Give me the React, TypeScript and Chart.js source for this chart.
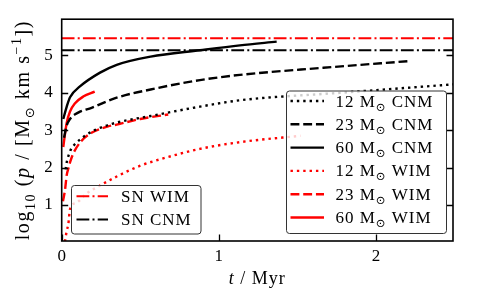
import React, { useEffect, useRef } from "react";
import { Chart, registerables } from "chart.js";
Chart.register(...registerables);

// ---------- data ----------
const tCnm12 = [0.025, 0.032, 0.042, 0.06, 0.085, 0.148, 0.21, 0.32, 0.566, 0.88, 1.134, 1.77, 2.47, 2.5];
const pCnm12 = [1.95, 2.14, 2.3, 2.5, 2.63, 2.85, 3.0, 3.17, 3.38, 3.63, 3.8, 4.0, 4.22, 4.23];

const tCnm23 = [0.015, 0.03, 0.053, 0.105, 0.19, 0.35, 0.566, 0.88, 1.134, 1.664, 2.215];
const pCnm23 = [2.8, 3.1, 3.3, 3.47, 3.6, 3.87, 4.09, 4.34, 4.48, 4.67, 4.85];

const tCnm60 = [0.01, 0.032, 0.053, 0.116, 0.244, 0.35, 0.566, 0.88, 1.134, 1.368];
const pCnm60 = [3.3, 3.63, 3.88, 4.17, 4.54, 4.75, 4.97, 5.14, 5.27, 5.37];

const tWim12 = [0.021, 0.032, 0.042, 0.053, 0.095, 0.159, 0.223, 0.35, 0.5, 0.625, 0.88, 1.134, 1.52];
const pWim12 = [0.02, 0.31, 0.48, 0.89, 1.06, 1.31, 1.47, 1.76, 2.05, 2.22, 2.5, 2.68, 2.85];

const tWim23 = [0.008, 0.021, 0.032, 0.042, 0.053, 0.074, 0.127, 0.19, 0.295, 0.35, 0.5, 0.678];
const pWim23 = [1.1, 1.4, 1.8, 1.97, 2.14, 2.38, 2.72, 2.93, 3.1, 3.15, 3.3, 3.42];

const tWim60 = [0.01, 0.021, 0.032, 0.053, 0.085, 0.137, 0.21];
const pWim60 = [2.55, 2.9, 3.2, 3.5, 3.72, 3.9, 4.03];

const snWim = 5.46;
const snCnm = 5.14;
const snRange = [0, 2.49];

const xTicks = [0, 1, 2];
const yTicks = [1, 2, 3, 4, 5];
const xMin = 0, xMax = 2.49;
const yMin = 0.035, yMax = 5.97;

const massLabels = ["12", "23", "60", "12", "23", "60"];
const mediumLabels = ["CNM", "CNM", "CNM", "WIM", "WIM", "WIM"];
const snLabels = ["SN WIM", "SN CNM"];

// ---------- styles ----------
const SERIF = '"Liberation Serif", "Times New Roman", serif';
const SYM = '"DejaVu Sans", "DejaVu Serif", sans-serif';
const LW = 2.4;
const DOT = [1 * LW, 1.65 * LW];
const DASH = [3.7 * LW, 1.6 * LW];
const SOLID: number[] = [];
const DASHDOT = [12.8, 3.2, 2, 3.2];
const RED = "#ff0000";
const BLACK = "#000000";

const seriesStyles = [
  { color: BLACK, dash: DOT },
  { color: BLACK, dash: DASH },
  { color: BLACK, dash: SOLID },
  { color: RED, dash: DOT },
  { color: RED, dash: DASH },
  { color: RED, dash: SOLID },
];
const snStyles = [
  { color: RED, dash: DASHDOT },
  { color: BLACK, dash: DASHDOT },
];

type Part = { t: string; s: number; dy?: number; it?: boolean; fam?: string };

function font(p: Part) {
  return `${p.it ? "italic " : ""}${p.s}px ${p.fam || SERIF}`;
}
function setLS(ctx: any, ls: number) {
  if ("letterSpacing" in ctx) ctx.letterSpacing = ls + "px";
}
function richWidth(ctx: CanvasRenderingContext2D, parts: Part[], ls: number) {
  let w = 0;
  setLS(ctx, ls);
  for (const p of parts) {
    ctx.font = font(p);
    w += ctx.measureText(p.t).width;
  }
  setLS(ctx, 0);
  return w;
}
function drawRich(ctx: CanvasRenderingContext2D, parts: Part[], x: number, y: number, ls: number) {
  let cx = x;
  ctx.textBaseline = "alphabetic";
  ctx.textAlign = "left";
  setLS(ctx, ls);
  for (const p of parts) {
    ctx.font = font(p);
    ctx.fillText(p.t, cx, y + (p.dy || 0));
    cx += ctx.measureText(p.t).width;
  }
  setLS(ctx, 0);
}

function roundRect(ctx: CanvasRenderingContext2D, x: number, y: number, w: number, h: number, r: number) {
  ctx.beginPath();
  ctx.moveTo(x + r, y);
  ctx.lineTo(x + w - r, y);
  ctx.arcTo(x + w, y, x + w, y + r, r);
  ctx.lineTo(x + w, y + h - r);
  ctx.arcTo(x + w, y + h, x + w - r, y + h, r);
  ctx.lineTo(x + r, y + h);
  ctx.arcTo(x, y + h, x, y + h - r, r);
  ctx.lineTo(x, y + r);
  ctx.arcTo(x, y, x + r, y, r);
  ctx.closePath();
}

const LEG_F = 17;
function massParts(m: string, med: string): Part[] {
  return [
    { t: m + " M", s: LEG_F },
    { t: "\u2299", s: 11.5, dy: 4, fam: SYM },
    { t: " " + med, s: LEG_F },
  ];
}

function drawLegend(
  ctx: CanvasRenderingContext2D,
  box: { x: number; y: number; w: number; h: number },
  rows: { parts: Part[]; color: string; dash: number[]; lw: number }[],
  firstRow: number,
  rowGap: number,
  lineX0: number,
  lineX1: number,
  textX: number
) {
  ctx.save();
  roundRect(ctx, box.x + 0.5, box.y + 0.5, box.w, box.h, 3);
  ctx.fillStyle = "rgba(255,255,255,0.8)";
  ctx.fill();
  ctx.strokeStyle = "#333";
  ctx.lineWidth = 1;
  ctx.stroke();
  rows.forEach((r, i) => {
    const y = firstRow + i * rowGap;
    ctx.beginPath();
    ctx.setLineDash(r.dash);
    ctx.strokeStyle = r.color;
    ctx.lineWidth = r.lw;
    ctx.lineCap = "butt";
    ctx.moveTo(lineX0, y);
    ctx.lineTo(lineX1, y);
    ctx.stroke();
    ctx.setLineDash([]);
    ctx.fillStyle = "#000";
    drawRich(ctx, r.parts, textX, y + 5.5, 1);
  });
  ctx.restore();
}

const overlay = {
  id: "overlay",
  afterDatasetsDraw(chart: any) {
    const ctx: CanvasRenderingContext2D = chart.ctx;
    const { left, right, top, bottom } = chart.chartArea;
    const xs = chart.scales.x;
    const ys = chart.scales.y;
    ctx.save();
    ctx.strokeStyle = "#000";
    ctx.lineWidth = 1.6;
    ctx.setLineDash([]);
    ctx.strokeRect(left, top, right - left, bottom - top);
    ctx.lineWidth = 1.3;
    const TL = 6.5;
    ctx.beginPath();
    for (const v of yTicks) {
      const py = Math.round(ys.getPixelForValue(v)) + 0.5;
      ctx.moveTo(left, py);
      ctx.lineTo(left + TL, py);
      ctx.moveTo(right, py);
      ctx.lineTo(right - TL, py);
    }
    for (const v of xTicks) {
      const px = Math.round(xs.getPixelForValue(v)) + 0.5;
      ctx.moveTo(px, bottom);
      ctx.lineTo(px, bottom - TL);
    }
    ctx.stroke();
    ctx.restore();
  },
  afterDraw(chart: any) {
    const ctx: CanvasRenderingContext2D = chart.ctx;
    const { left, right, top, bottom } = chart.chartArea;
    ctx.save();
    ctx.fillStyle = "#000";

    // legends
    const upperRows = massLabels.map((m, i) => ({
      parts: massParts(m, mediumLabels[i]),
      color: seriesStyles[i].color,
      dash: seriesStyles[i].dash,
      lw: LW,
    }));
    drawLegend(ctx, { x: 286, y: 90.5, w: 160, h: 142.5 }, upperRows, 101, 23.3, 290.5, 324, 335.5);

    const lowerRows = snLabels.map((l, i) => ({
      parts: [{ t: l, s: LEG_F }] as Part[],
      color: snStyles[i].color,
      dash: snStyles[i].dash,
      lw: 2,
    }));
    drawLegend(ctx, { x: 71, y: 185, w: 129.5, h: 48.5 }, lowerRows, 196.3, 23.3, 76.5, 108, 121);

    // x title
    const xParts: Part[] = [
      { t: "t", s: 18, it: true },
      { t: " / Myr", s: 18 },
    ];
    const xw = richWidth(ctx, xParts, 1);
    drawRich(ctx, xParts, (left + right) / 2 - xw / 2, 284, 1);

    // y title
    const F = 20;
    const yParts: Part[] = [
      { t: "log", s: F },
      { t: "10", s: F * 0.7, dy: F * 0.28 },
      { t: " (", s: F },
      { t: "p", s: F, it: true },
      { t: " / [M", s: F },
      { t: "\u2299", s: F * 0.65, dy: F * 0.25, fam: SYM },
      { t: " km s", s: F },
      { t: "\u22121", s: F * 0.7, dy: -F * 0.42 },
      { t: "])", s: F },
    ];
    const yw = richWidth(ctx, yParts, 1.6);
    ctx.translate(29, (top + bottom) / 2);
    ctx.rotate(-Math.PI / 2);
    drawRich(ctx, yParts, -yw / 2, 0, 1.6);
    ctx.restore();
  },
};

function makeSeries(t: number[], p: number[], color: string, dash: number[], lw: number) {
  return {
    data: t.map((x, i) => ({ x, y: p[i] })),
    borderColor: color,
    borderWidth: lw,
    borderDash: dash,
    borderCapStyle: "butt",
    pointRadius: 0,
    fill: false,
    cubicInterpolationMode: "monotone",
  };
}

export default function App() {
  const ref = useRef<HTMLCanvasElement | null>(null);
  useEffect(() => {
    if (!ref.current) return;
    const series = [
      [tCnm12, pCnm12],
      [tCnm23, pCnm23],
      [tCnm60, pCnm60],
      [tWim12, pWim12],
      [tWim23, pWim23],
      [tWim60, pWim60],
    ];
    const datasets: any[] = series.map(([t, p], i) =>
      makeSeries(t, p, seriesStyles[i].color, seriesStyles[i].dash, LW)
    );
    datasets.push(makeSeries(snRange, [snWim, snWim], snStyles[0].color, snStyles[0].dash, 2));
    datasets.push(makeSeries(snRange, [snCnm, snCnm], snStyles[1].color, snStyles[1].dash, 2));

    const chart = new Chart(ref.current, {
      type: "line",
      data: { datasets },
      plugins: [overlay],
      options: {
        responsive: false,
        animation: false,
        devicePixelRatio: 1,
        layout: { padding: { left: 0, right: 25, top: 3, bottom: 0 } },
        plugins: { legend: { display: false }, tooltip: { enabled: false } },
        scales: {
          x: {
            type: "linear",
            min: xMin,
            max: xMax,
            grid: { display: false, drawTicks: false },
            border: { display: false },
            afterBuildTicks: (s: any) => {
              s.ticks = xTicks.map((v) => ({ value: v }));
            },
            afterFit: (s: any) => {
              s.height = 54;
            },
            ticks: {
              color: "#000",
              font: { family: SERIF, size: 17 },
              padding: 5,
              maxRotation: 0,
              autoSkip: false,
              callback: (v: any) => String(v),
            },
          },
          y: {
            type: "linear",
            min: yMin,
            max: yMax,
            grid: { display: false, drawTicks: false },
            border: { display: false },
            afterBuildTicks: (s: any) => {
              s.ticks = yTicks.map((v) => ({ value: v }));
            },
            afterFit: (s: any) => {
              s.width = 61.7;
            },
            ticks: {
              color: "#000",
              font: { family: SERIF, size: 17 },
              padding: 9,
              autoSkip: false,
              callback: (v: any) => String(v),
            },
          },
        },
      } as any,
    });
    return () => chart.destroy();
  }, []);
  return (
    <div style={{ position: "absolute", left: 0, top: 0, width: 478, height: 295, background: "#fff" }}>
      <canvas ref={ref} width={478} height={295} style={{ display: "block" }} />
    </div>
  );
}
